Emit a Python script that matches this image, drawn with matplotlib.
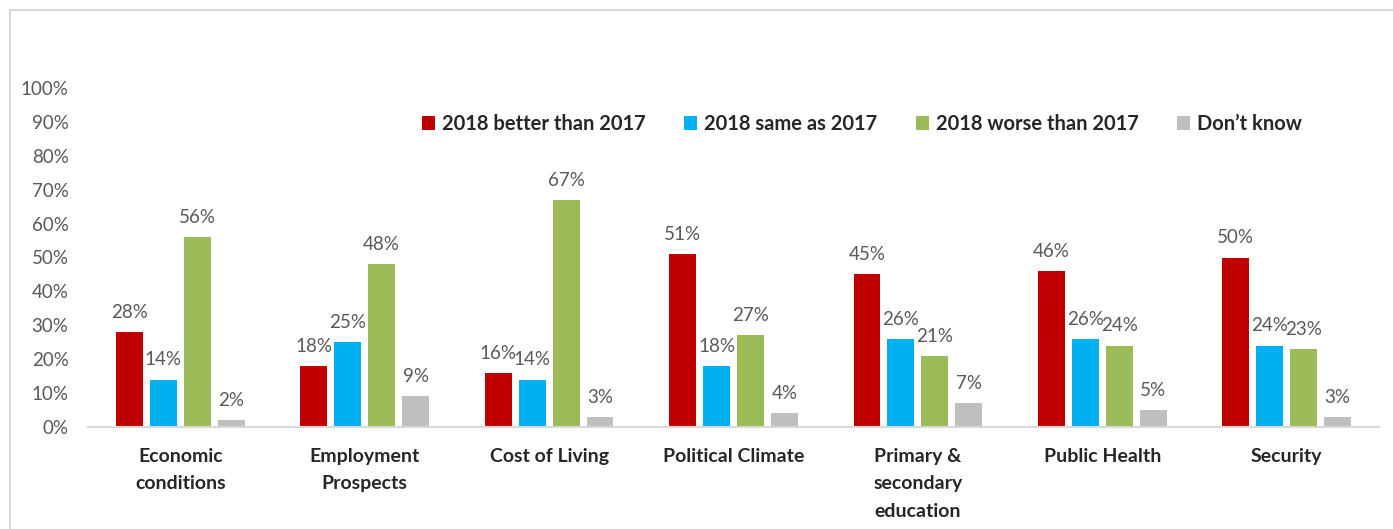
import numpy as np
import matplotlib.pyplot as plt
from matplotlib.patches import Rectangle

categories = ["Economic\nconditions", "Employment\nProspects", "Cost of Living",
              "Political Climate", "Primary &\nsecondary\neducation", "Public Health", "Security"]
series = ["2018 better than 2017", "2018 same as 2017", "2018 worse than 2017", "Don\u2019t know"]
better = [28, 18, 16, 51, 45, 46, 50]
same = [14, 25, 14, 18, 26, 26, 24]
worse = [56, 48, 67, 27, 21, 24, 23]
dont_know = [2, 9, 3, 4, 7, 5, 3]
colors = ["#C00000", "#00B0F0", "#9BBB59", "#BFBFBF"]

plt.rcParams['font.family'] = ['Lato', 'DejaVu Sans']

fig = plt.figure(figsize=(13.93, 5.29), dpi=100)
ax = fig.add_axes([88 / 1393, 102 / 529, 1291 / 1393, 339 / 529])

# chart border (cropped at right/bottom)
fig.patches.append(Rectangle((10 / 1393, -0.1), 1.2, (519 / 529) + 0.1,
                             transform=fig.transFigure, fill=False,
                             edgecolor="#D9D9D9", linewidth=1.5))

x = np.arange(len(categories))
pitch = 0.184
width = 0.146
for i, (vals, col, name) in enumerate(zip([better, same, worse, dont_know], colors, series)):
    pos = x + (i - 1.5) * pitch
    ax.bar(pos, vals, width=width, color=col, label=name)
    for p, v in zip(pos, vals):
        ax.text(p, v + 3.3, f"{v}%", ha="center", va="bottom", fontsize=13.5, color="#595959")

ax.set_xlim(-0.5, 6.5)
ax.set_ylim(0, 100)
ax.set_yticks(range(0, 101, 10))
ax.set_yticklabels([f"{t}%" for t in range(0, 101, 10)], fontsize=13.5, color="#595959")
ax.set_xticks(x)
ax.set_xticklabels(categories, fontsize=14, fontweight="bold", color="#262626", va="top",
                   linespacing=1.75)
ax.tick_params(axis="both", length=0)
ax.tick_params(axis="x", pad=15)
ax.tick_params(axis="y", pad=14)
for s in ["top", "right", "left"]:
    ax.spines[s].set_visible(False)
ax.spines["bottom"].set_color("#D9D9D9")
ax.spines["bottom"].set_linewidth(1.5)

leg = ax.legend(loc="center", bbox_to_anchor=(862 / 1393, 1 - 124 / 529), bbox_transform=fig.transFigure,
                ncol=4, frameon=False, handlelength=0.65, handleheight=0.65, handletextpad=0.35,
                columnspacing=1.9, prop={"size": 14.5, "weight": "bold"})
for t in leg.get_texts():
    t.set_color("#262626")

fig.savefig("out.png", dpi=100)
